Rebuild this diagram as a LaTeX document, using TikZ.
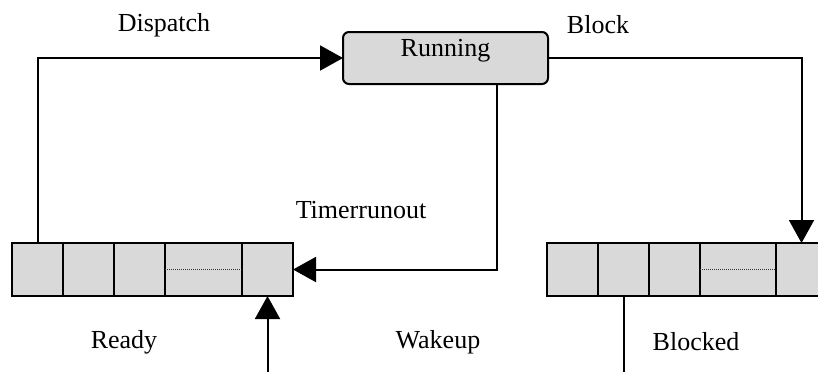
\documentclass[tikz,border=0pt]{standalone}
\usepackage{fontspec}
\setmainfont{Liberation Serif}
\usetikzlibrary{arrows.meta,positioning}

\definecolor{boxgray}{HTML}{D9D9D9}

\begin{document}
\begin{tikzpicture}[x=0.5pt, y=-0.5pt, font=\fontsize{13}{15}\selectfont,
    cell/.style={draw, fill=boxgray, line width=1pt, minimum height=26.5pt,
                 inner sep=0pt, outer sep=0pt},
    arr/.style={line width=1pt, -{Triangle[length=11.5pt,width=12.5pt]}},
    plain/.style={line width=1pt},
    split/.style={line width=0.6pt, black!80, dash pattern=on 0.6pt off 0.4pt}]
    \useasboundingbox (0,0) rectangle (818,372);
    \clip (0,0) rectangle (818,372);

    % running state
    \node[draw, fill=boxgray, line width=1pt, rounded corners=3pt, outer sep=0pt,
          minimum width=102.5pt, minimum height=26pt] (run) at (445.5,58) {};
    \node at (445.5,51) {Running};

    % ready queue
    \node[cell, minimum width=25.5pt] (r1) at (37.5,269.5) {};
    \node[cell, minimum width=25.5pt, right=0pt of r1] (r2) {};
    \node[cell, minimum width=25.5pt, right=0pt of r2] (r3) {};
    \node[cell, minimum width=38.5pt, right=0pt of r3] (r4) {};
    \node[cell, minimum width=25.5pt, right=0pt of r4] (r5) {};
    \draw[split] (r4.west) -- (r4.east);

    % blocked queue
    \node[cell, minimum width=25.5pt] (b1) at (572.5,269.5) {};
    \node[cell, minimum width=25.5pt, right=0pt of b1] (b2) {};
    \node[cell, minimum width=25.5pt, right=0pt of b2] (b3) {};
    \node[cell, minimum width=38pt, right=0pt of b3] (b4) {};
    \node[cell, minimum width=25.5pt, right=0pt of b4] (b5) {};
    \draw[split] (b4.west) -- (b4.east);

    % transitions
    \coordinate (wake) at (r5 |- 0,372);
    \coordinate (rest) at (b2 |- 0,372);
    \coordinate (tdown) at (497,84);
    \draw[arr] (r1.north) |- (run.west);
    \draw[arr] (run.east) -| (b5.north);
    \draw[arr] (tdown) |- (r5.east);
    \draw[arr] (wake) -- (r5.south);
    \draw[plain] (b2.south) -- (rest);

    % labels
    \node at (164,25) {Dispatch};
    \node at (598,25) {Block};
    \node at (361,210) {Timerrunout};
    \node at (124,342) {Ready};
    \node at (438,342) {Wakeup};
    \node at (696,342) {Blocked};
\end{tikzpicture}
\end{document}
